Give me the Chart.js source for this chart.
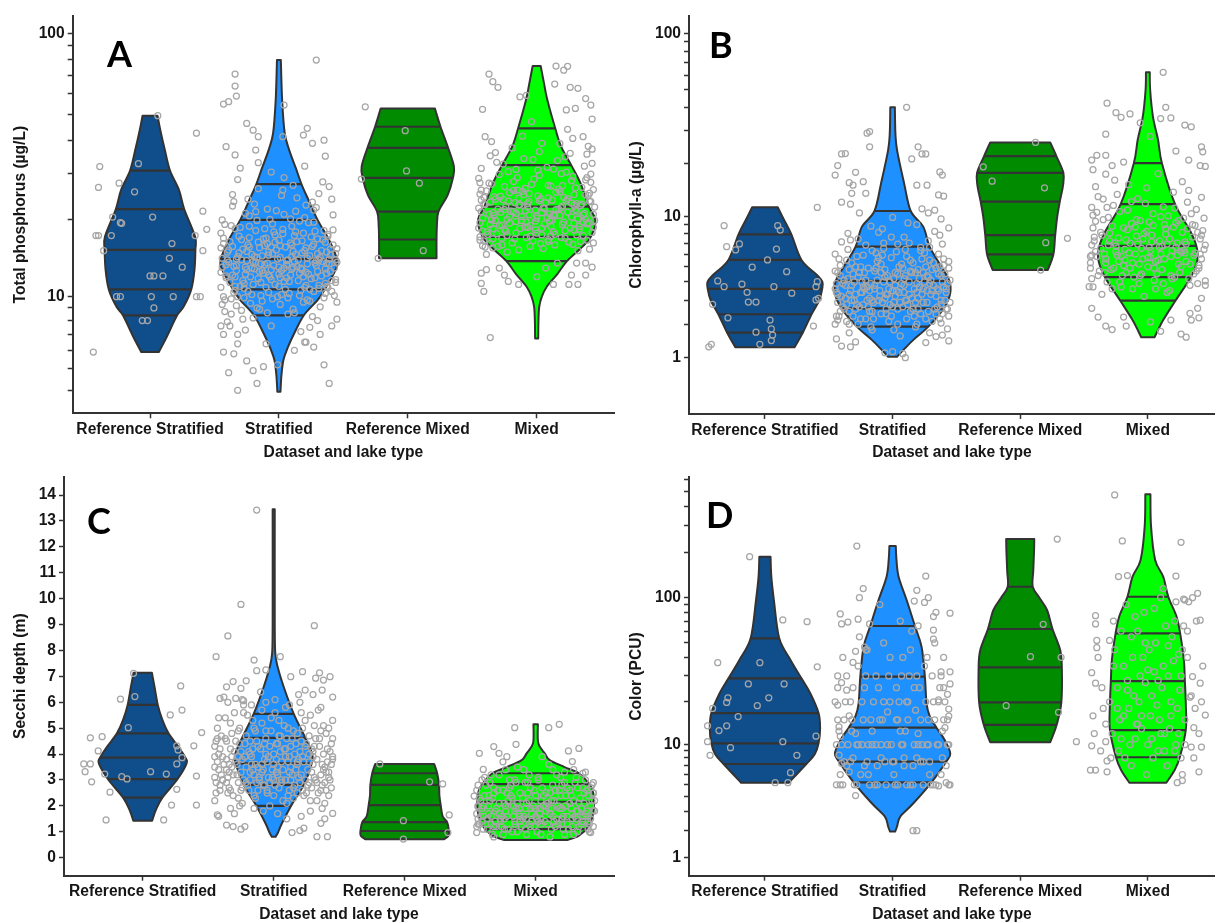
<!DOCTYPE html>
<html>
<head>
<meta charset="utf-8">
<title>Lake water quality by dataset and lake type</title>
<script src="https://cdn.jsdelivr.net/npm/chart.js"></script>
<style>
  html, body { margin: 0; padding: 0; background: #ffffff; }
  #wrap { position: relative; width: 1220px; height: 923px; overflow: hidden; background: #ffffff; }
  #wrap canvas { position: absolute; left: 0; top: 0; }
</style>
</head>
<body>
<div id="wrap">
  <canvas id="cA" width="1220" height="923"></canvas>
  <canvas id="cB" width="1220" height="923"></canvas>
  <canvas id="cC" width="1220" height="923"></canvas>
  <canvas id="cD" width="1220" height="923"></canvas>
</div>
<script>
// ---------------------------------------------------------------------------
// Categories and fills shared by the four panels
// ---------------------------------------------------------------------------
const categories = ['Reference Stratified', 'Stratified', 'Reference Mixed', 'Mixed'];
const fills = ['#104E8B', '#1E90FF', '#008B00', '#00FF00'];

// ---------------------------------------------------------------------------
// A: Total phosphorus (µg/L)
// violin outlines: [value, half width in category units], bottom to top
// ---------------------------------------------------------------------------
const tpShapes = [
  [[5.9,0.068],[6.85,0.13],[8.4,0.21],[9.1,0.26],[10.7,0.32],[12.8,0.345],[15.3,0.352],[17.2,0.35],[22.0,0.265],[26.0,0.225],[30.8,0.155],[36.8,0.115],[43.7,0.08],[49.5,0.058]],
  [[3.94,0.012],[4.7,0.02],[5.45,0.035],[6.1,0.065],[7.1,0.12],[8.43,0.195],[9.69,0.3],[10.73,0.357],[12.8,0.44],[14.1,0.45],[16.7,0.39],[20.0,0.30],[23.8,0.23],[27.4,0.175],[31.6,0.13],[36.8,0.08],[42.6,0.045],[56.6,0.025],[79.7,0.015]],
  [[14.2,0.223],[16.8,0.223],[19.0,0.226],[21.5,0.238],[24.9,0.31],[28.9,0.35],[31.9,0.358],[37.5,0.313],[45.0,0.254],[52.7,0.21]],
  [[6.74,0.012],[8.0,0.014],[9.11,0.02],[10.0,0.04],[10.96,0.078],[12.3,0.16],[13.85,0.235],[15.5,0.34],[17.2,0.42],[20.0,0.455],[22.5,0.405],[27.6,0.34],[32.3,0.268],[37.9,0.19],[44.4,0.144],[56.6,0.083],[65.3,0.057],[75.7,0.031]]
];
// 10th, 25th, 50th, 75th, 90th percentiles
const tpQuantiles = [
  [8.4, 10.7, 15.3, 22.0, 30.8],
  [8.4, 10.7, 14.1, 20.0, 27.4],
  [16.8, 21.5, 28.9, 37.5, 45.0],
  [13.85, 17.2, 22.5, 32.3, 44.4]
];
const tpTicks = [4,5,6,7,8,9,10,20,30,40,50,60,70,80,90,100];
const tpTickLabels = [10, 100];
// lakes: [jitter offset, value]
const tpRefStratPts = [[0.06,49.5],[-0.39,31.9],[-0.4,26.6],[-0.24,27.6],[-0.09,32.7],[-0.12,25.6],[0.02,20.5],[-0.23,19.5],[-0.29,20.5],[0.36,42.6],[0.41,21.6],[-0.42,17.4],[-0.4,17.4],[-0.3,17.4],[-0.22,19.4],[-0.36,15.2],[0.17,16.2],[0.15,14.2],[0.25,13.1],[0.0,12.1],[0.03,12.1],[0.1,12.1],[-0.23,10],[-0.26,10],[0.01,10],[0.18,10],[0.03,9.0],[-0.06,8.0],[-0.02,8.0],[0.35,17.4],[0.41,15.2],[0.44,18.4],[0.36,10],[0.39,10],[-0.44,5.9]];
const tpStratPts = [
  [-0.34,70.7],[-0.34,63.8],[-0.33,58.6],[-0.43,54.7],[-0.39,55.8],[0.04,54.2],[-0.25,46.3],[-0.2,43.7],[-0.16,41.3],[-0.41,37.9],[-0.18,36.8],[-0.34,35.3],[0.03,41.3],[0.29,79.7],[0.22,44.4],[0.19,41.9],[0.26,39.0],[0.35,40.1],[0.36,34.9],
  [-0.32,4.0],[-0.17,4.3],[-0.39,4.8],[-0.25,5.4],[-0.2,4.9],[-0.12,5.1],[-0.35,5.8],[-0.43,5.9],[-0.32,6.4],[-0.1,6.4],[-0.01,5.2],[0.12,6.0],[0.2,6.5],[0.35,5.2],[0.39,4.3],[0.27,6.2],[0.21,6.5],[0.32,7.0],[0.24,7.5],[0.41,7.6],[-0.45,7.6],[-0.38,7.6],[-0.32,7.0],[-0.43,7.0],[-0.37,8.5],[-0.28,8.1],
  [-0.44,14.2],[-0.41,12.1],[-0.38,16.5],[-0.35,10.4],[-0.33,13.3],[-0.30,18.7],[-0.28,11.6],[-0.25,15.1],[-0.22,9.4],[-0.20,13.8],[-0.18,21.5],[-0.15,12.6],[-0.12,16.9],[-0.10,10.9],[-0.08,14.6],[-0.05,19.3],[-0.03,11.2],[0.00,13.1],[0.02,24.8],[0.05,15.7],[0.07,9.9],[0.10,12.9],[0.12,17.4],[0.15,14.0],[0.17,10.6],[0.20,20.4],[0.22,13.5],[0.25,11.8],[0.27,16.1],[0.30,14.8],[0.32,9.1],[0.35,18.2],[0.37,12.4],[0.40,15.4],[0.43,13.0],
  [-0.45,17.8],[-0.42,9.7],[-0.39,13.7],[-0.36,22.6],[-0.34,11.0],[-0.31,14.9],[-0.29,8.8],[-0.26,12.3],[-0.23,17.1],[-0.21,10.2],[-0.19,14.4],[-0.16,26.3],[-0.14,11.4],[-0.11,15.9],[-0.09,8.6],[-0.06,12.8],[-0.04,18.0],[-0.01,10.0],[0.01,14.3],[0.04,21.0],[0.06,11.9],[0.09,16.3],[0.11,8.9],[0.14,13.2],[0.16,19.8],[0.19,12.0],[0.21,15.6],[0.24,9.6],[0.26,23.4],[0.29,13.9],[0.31,11.1],[0.34,16.8],[0.36,10.3],[0.39,14.1],[0.42,20.9],[0.44,11.7],
  [-0.43,10.0],[-0.40,15.0],[-0.37,19.0],[-0.34,12.0],[-0.32,28.5],[-0.29,14.0],[-0.27,10.8],[-0.24,16.0],[-0.21,13.0],[-0.19,23.0],[-0.17,9.0],[-0.13,14.5],[-0.11,18.5],[-0.08,12.2],[-0.06,30.4],[-0.02,15.3],[0.01,9.3],[0.03,17.7],[0.06,13.4],[0.08,11.5],[0.11,27.1],[0.13,14.7],[0.16,10.1],[0.18,16.6],[0.21,12.5],[0.23,19.5],[0.26,8.3],[0.28,13.6],[0.31,25.2],[0.33,15.2],[0.36,11.3],[0.38,17.3],[0.41,10.5],[0.44,14.0],
  [-0.44,20.0],[-0.40,7.9],[-0.36,25.0],[-0.33,9.2],[-0.30,31.5],[-0.26,7.3],[-0.23,20.7],[-0.20,8.2],[-0.16,33.0],[-0.13,12.7],[-0.09,22.0],[-0.06,7.6],[-0.03,16.4],[0.00,11.0],[0.04,29.0],[0.07,8.5],[0.10,18.9],[0.14,24.3],[0.17,7.2],[0.20,32.0],[0.24,10.7],[0.27,21.8],[0.30,8.0],[0.34,27.9],[0.37,13.6],[0.41,24.0],[0.45,9.5],
  [-0.45,12.5],[-0.36,15.8],[-0.27,11.3],[-0.18,18.2],[-0.09,13.6],[0.00,16.7],[0.09,12.2],[0.18,14.9],[0.27,19.6],[0.36,12.9],[0.45,15.5],
  [-0.43,16.2],[-0.34,10.6],[-0.25,13.9],[-0.16,11.8],[-0.07,20.1],[0.02,12.7],[0.11,15.1],[0.20,10.9],[0.29,13.3],[0.38,17.6],[0.44,11.4],
  [-0.41,11.9],[-0.32,14.4],[-0.23,18.9],[-0.14,10.1],[-0.05,14.8],[0.04,11.5],[0.13,21.6],[0.22,14.2],[0.31,10.8],[0.40,14.6],
  [-0.44,13.1],[-0.37,9.8],[-0.28,15.4],[-0.19,12.9],[-0.10,17.0],[-0.01,14.1],[0.08,10.3],[0.17,13.0],[0.26,15.8],[0.35,9.9],[0.42,18.3],
  [-0.42,19.2],[-0.33,12.7],[-0.24,10.5],[-0.15,15.6],[-0.06,11.7],[0.03,18.4],[0.12,13.8],[0.21,11.1],[0.30,16.9],[0.39,13.5],
  [-0.40,14.0],[-0.31,17.3],[-0.22,12.0],[-0.13,9.6],[-0.04,13.3],[0.05,10.7],[0.14,16.5],[0.23,12.3],[0.32,14.3],[0.41,11.6],
  [-0.45,10.9],[-0.35,13.2],[-0.26,21.2],[-0.17,14.3],[-0.08,10.4],[0.01,15.9],[0.10,14.4],[0.19,17.8],[0.28,11.9],[0.37,15.0],[0.45,13.7],
  [-0.39,15.3],[-0.30,11.0],[-0.21,14.7],[-0.12,12.4],[-0.03,17.5],[0.06,13.9],[0.15,11.6],[0.24,14.5],[0.33,12.1],[0.42,16.0],
  [-0.44,9.3],[-0.34,18.5],[-0.25,12.8],[-0.16,16.4],[-0.07,12.0],[0.02,10.2],[0.11,13.1],[0.20,15.2],[0.29,22.3],[0.38,10.9],
  [-0.41,13.4],[-0.32,10.0],[-0.23,15.7],[-0.14,13.5],[-0.05,9.8],[0.04,13.0],[0.13,18.0],[0.22,9.7],[0.31,14.0],[0.40,12.6],
  [-0.43,17.0],[-0.36,12.2],[-0.27,9.9],[-0.18,13.7],[-0.09,16.2],[0.00,12.3],[0.09,20.2],[0.18,12.8],[0.27,10.5],[0.36,16.4],[0.44,14.8],
  [-0.38,11.4],[-0.29,16.8],[-0.20,11.2],[-0.11,13.4],[-0.02,21.7],[0.07,14.0],[0.16,12.4],[0.25,17.2],[0.34,13.8],[0.43,10.1],
  [-0.45,15.6],[-0.35,23.5],[-0.26,13.1],[-0.17,19.9],[-0.08,15.0],[0.01,11.9],[0.10,16.0],[0.19,9.5],[0.28,18.1],[0.37,11.0],
  [-0.42,8.7],[-0.33,14.1],[-0.24,24.0],[-0.15,8.9],[-0.06,15.7],[0.03,26.0],[0.12,8.6],[0.21,22.8],[0.30,12.6],[0.39,26.8],[0.45,8.1]
];
const tpRefMixedPts = [[-0.33,53.4],[-0.02,43.5],[-0.01,30.7],[0.09,27.6],[-0.36,28.6],[0.12,15.2],[-0.23,14.2]];
const tpMixedPts = [
  [0.15,75.7],[0.21,73.1],[0.24,75.5],[-0.37,70.7],[-0.34,66.2],[-0.3,63.1],[0.14,64.9],[0.26,63.1],[0.32,62.6],[0.38,57.3],[0.42,54.2],[0.43,48.1],[-0.42,52.3],[-0.13,58.2],[-0.08,58.9],[-0.4,41.3],[-0.35,39.6],[0.36,41.3],[0.43,37.1],[0.39,35.5],[0.43,32.8],[-0.43,31.4],[-0.44,27.7],[-0.36,35.0],[0.23,52.0],[0.3,52.7],[0.28,40.7],
  [-0.36,6.8],[-0.43,12.4],[-0.39,12.8],[-0.43,11.3],[-0.41,10.5],[-0.29,13.0],[-0.25,12.2],[-0.22,11.5],[-0.14,11.2],[0.0,12.0],[0.07,13.0],[0.13,11.2],[0.25,11.2],[0.32,11.2],[0.27,12.2],[0.38,12.2],[0.43,13.1],[0.41,15.4],[0.38,13.6],[0.31,13.6],[0.16,13.6],[-0.39,14.7],[-0.44,16.7],[-0.42,15.9],
  [-0.44,19.5],[-0.41,23.0],[-0.38,17.6],[-0.35,27.4],[-0.33,20.8],[-0.30,15.8],[-0.28,24.6],[-0.25,18.4],[-0.22,30.5],[-0.20,21.6],[-0.17,16.9],[-0.15,26.0],[-0.12,19.9],[-0.10,34.2],[-0.07,22.4],[-0.05,17.3],[-0.02,28.6],[0.00,20.3],[0.03,24.1],[0.05,15.5],[0.08,31.7],[0.10,21.1],[0.13,18.0],[0.15,25.5],[0.18,38.9],[0.20,19.2],[0.23,23.7],[0.25,16.4],[0.28,29.3],[0.30,21.9],[0.33,18.9],[0.35,26.6],[0.38,20.1],[0.40,24.8],[0.43,17.9],
  [-0.45,22.2],[-0.42,18.1],[-0.39,25.8],[-0.36,16.2],[-0.34,21.3],[-0.31,33.1],[-0.29,19.0],[-0.26,23.9],[-0.23,15.0],[-0.21,20.6],[-0.18,28.0],[-0.16,17.8],[-0.13,22.9],[-0.11,41.5],[-0.08,19.6],[-0.06,25.2],[-0.03,16.6],[-0.01,21.8],[0.02,36.3],[0.04,18.6],[0.07,23.3],[0.09,27.1],[0.12,20.0],[0.14,16.0],[0.17,22.0],[0.19,30.0],[0.22,18.2],[0.24,44.0],[0.27,20.5],[0.29,25.0],[0.32,15.2],[0.34,22.7],[0.37,32.0],[0.39,19.3],[0.42,27.8],[0.44,21.0],
  [-0.43,26.0],[-0.40,15.7],[-0.37,21.0],[-0.34,18.5],[-0.32,24.0],[-0.29,29.8],[-0.27,17.0],[-0.24,22.5],[-0.21,19.4],[-0.19,37.5],[-0.16,21.2],[-0.14,15.3],[-0.11,25.7],[-0.09,18.8],[-0.06,23.5],[-0.04,47.0],[-0.01,19.8],[0.01,30.9],[0.04,17.5],[0.06,22.1],[0.09,16.8],[0.11,26.9],[0.14,20.7],[0.16,33.6],[0.19,17.1],[0.21,24.4],[0.24,21.4],[0.26,35.8],[0.29,18.3],[0.31,23.1],[0.34,16.5],[0.36,20.9],[0.39,29.0],[0.41,23.6],[0.44,18.7],
  [-0.45,18.6],[-0.36,23.4],[-0.27,19.1],[-0.18,25.9],[-0.09,21.7],[0.00,17.8],[0.09,24.3],[0.18,20.8],[0.27,28.2],[0.36,17.4],[0.45,22.4],
  [-0.43,21.5],[-0.34,16.9],[-0.25,26.8],[-0.16,19.7],[-0.07,23.1],[0.02,29.6],[0.11,18.9],[0.20,22.6],[0.29,19.4],[0.38,24.9],[0.44,16.3],
  [-0.41,24.4],[-0.32,19.9],[-0.23,17.4],[-0.14,22.8],[-0.05,19.0],[0.04,21.3],[0.13,31.2],[0.22,17.0],[0.31,21.6],[0.40,19.5],
  [-0.44,17.2],[-0.37,27.6],[-0.28,21.4],[-0.19,16.3],[-0.10,25.0],[-0.01,18.3],[0.08,20.4],[0.17,26.2],[0.26,18.6],[0.35,23.0],[0.42,29.9],
  [-0.42,20.3],[-0.33,24.5],[-0.24,18.1],[-0.15,29.0],[-0.06,20.9],[0.03,16.2],[0.12,23.8],[0.21,19.6],[0.30,26.5],[0.39,16.7],
  [-0.40,22.9],[-0.31,17.7],[-0.22,23.6],[-0.13,18.5],[-0.04,27.3],[0.05,22.2],[0.14,17.6],[0.23,30.4],[0.32,20.2],[0.41,25.3],
  [-0.45,28.8],[-0.35,20.0],[-0.26,32.6],[-0.17,23.3],[-0.08,17.1],[0.01,24.7],[0.10,19.8],[0.19,22.3],[0.28,16.1],[0.37,21.2],[0.45,19.9],
  [-0.39,18.0],[-0.30,22.0],[-0.21,25.4],[-0.12,20.6],[-0.03,33.9],[0.06,19.3],[0.15,21.9],[0.24,24.1],[0.33,18.4],[0.42,23.5],
  [-0.44,25.1],[-0.34,15.6],[-0.25,21.9],[-0.16,31.1],[-0.07,18.7],[0.02,23.7],[0.11,17.3],[0.20,27.0],[0.29,22.8],[0.38,28.4],
  [-0.41,16.6],[-0.32,36.0],[-0.23,20.1],[-0.14,24.2],[-0.05,15.8],[0.04,39.0],[0.13,21.0],[0.22,34.7],[0.31,17.5],[0.40,38.0],
  [-0.43,23.8],[-0.36,19.2],[-0.27,16.0],[-0.18,21.5],[-0.09,26.4],[0.00,20.7],[0.09,16.5],[0.18,25.6],[0.27,23.2],[0.36,19.6],[0.44,26.1]
];

// ---------------------------------------------------------------------------
// B: Chlorophyll-a (µg/L)
// ---------------------------------------------------------------------------
const chlShapes = [
  [[1.27,0.232],[1.71,0.297],[2.38,0.365],[3.0,0.425],[3.59,0.448],[4.0,0.45],[4.43,0.407],[5.52,0.286],[7.89,0.207],[9.57,0.15],[11.32,0.10]],
  [[1.02,0.035],[1.25,0.1],[1.48,0.163],[1.91,0.28],[2.63,0.40],[3.3,0.45],[4.06,0.445],[5.2,0.37],[6.65,0.29],[8.75,0.24],[10.78,0.142],[15.5,0.09],[23.6,0.035],[29.3,0.022],[40.3,0.018]],
  [[4.77,0.216],[5.98,0.26],[7.81,0.274],[10.0,0.29],[12.19,0.31],[15.0,0.335],[17.7,0.338],[21.9,0.283],[26.0,0.235]],
  [[1.56,0.052],[2.15,0.12],[2.99,0.217],[4.29,0.336],[5.52,0.388],[6.72,0.38],[8.36,0.328],[11.8,0.213],[20.0,0.11],[26.8,0.08],[35.8,0.04],[49.9,0.018],[62.0,0.015]]
];
const chlQuantiles = [
  [1.71, 2.38, 3.59, 5.52, 7.89],
  [1.91, 2.63, 4.06, 6.65, 10.78],
  [5.98, 7.81, 12.19, 17.7, 21.9],
  [2.99, 4.29, 6.72, 11.8, 20.0]
];
const chlTicks = [1,2,3,4,5,6,7,8,9,10,20,30,40,50,60,70,80,90,100];
const chlTickLabels = [1, 10, 100];
const chlRefStratPts = [[-0.32,8.86],[-0.3,6.65],[-0.2,6.91],[-0.23,6.36],[0.1,8.86],[0.12,8.36],[0.09,6.44],[0.02,5.52],[-0.1,4.97],[0.17,4.66],[-0.37,4.06],[-0.32,3.72],[-0.18,3.86],[0.07,3.72],[-0.14,3.41],[0.21,3.36],[-0.13,2.92],[-0.07,2.92],[-0.41,2.81],[0.41,4.01],[0.4,3.72],[0.42,3.1],[0.4,3.02],[-0.29,2.24],[0.04,2.15],[0.05,1.83],[-0.07,1.72],[0.06,1.63],[0.05,1.46],[-0.04,1.35],[0.38,1.93],[-0.44,1.28],[-0.42,1.35],[0.41,11.3]];
const chlStratPts = [
  [0.11,40.3],[-0.2,29.2],[-0.18,29.8],[-0.18,24.6],[-0.4,22.5],[-0.37,22.6],[-0.43,19.4],[-0.45,17.2],[-0.29,17.8],[-0.34,15.6],[-0.23,15.8],[-0.31,15.1],[-0.21,13.6],[-0.32,13.6],[-0.4,12.1],[-0.33,11.8],[0.2,24.6],[0.23,22.5],[0.26,22.5],[0.15,21.1],[0.37,17.9],[0.39,17.2],[0.19,15.1],[0.27,15.1],[0.36,13.3],[0.4,13.1],[0.38,9.7],[0.33,10.9],[0.23,11.1],[0.28,10.5],
  [-0.44,1.51],[-0.4,1.3],[-0.33,1.28],[-0.29,1.42],[-0.43,2.15],[-0.34,1.7],[-0.06,1.12],[0.0,1.15],[0.08,1.1],[0.1,1.0],[0.26,1.4],[0.34,1.58],[0.39,1.63],[0.44,1.45],[0.43,1.83],[0.38,2.04],
  [-0.44,3.4],[-0.41,5.1],[-0.38,2.6],[-0.35,4.2],[-0.33,7.3],[-0.30,3.0],[-0.28,5.8],[-0.25,2.2],[-0.22,4.6],[-0.20,3.7],[-0.17,8.8],[-0.15,2.9],[-0.12,5.4],[-0.10,3.2],[-0.07,6.5],[-0.05,2.4],[-0.02,4.0],[0.00,9.9],[0.03,3.5],[0.05,5.0],[0.08,2.7],[0.10,4.4],[0.13,7.0],[0.15,3.1],[0.18,1.9],[0.20,4.8],[0.23,3.3],[0.25,6.1],[0.28,2.5],[0.30,4.1],[0.33,8.2],[0.35,3.6],[0.38,2.8],[0.40,5.6],[0.43,3.9],
  [-0.45,6.0],[-0.42,2.3],[-0.39,3.9],[-0.36,5.5],[-0.34,2.0],[-0.31,4.5],[-0.29,3.3],[-0.26,10.5],[-0.23,2.8],[-0.21,6.8],[-0.18,3.5],[-0.16,1.8],[-0.13,4.9],[-0.11,3.0],[-0.08,5.9],[-0.06,4.3],[-0.03,2.1],[-0.01,7.6],[0.02,3.8],[0.04,2.6],[0.07,5.2],[0.09,3.4],[0.12,9.2],[0.14,4.7],[0.17,2.3],[0.19,3.9],[0.22,6.3],[0.24,2.9],[0.27,4.4],[0.29,1.7],[0.32,5.3],[0.34,3.2],[0.37,7.8],[0.39,4.0],[0.42,2.6],[0.44,4.9],
  [-0.43,4.6],[-0.40,7.1],[-0.37,3.1],[-0.34,2.5],[-0.32,3.8],[-0.29,5.0],[-0.27,2.0],[-0.24,3.4],[-0.21,4.1],[-0.19,2.7],[-0.16,6.3],[-0.14,3.6],[-0.11,8.1],[-0.09,2.4],[-0.06,4.8],[-0.04,3.3],[-0.01,5.7],[0.01,2.9],[0.04,6.9],[0.06,1.6],[0.09,4.2],[0.11,3.0],[0.14,5.5],[0.16,2.6],[0.19,9.0],[0.21,3.7],[0.24,4.6],[0.26,2.2],[0.29,6.6],[0.31,3.5],[0.34,2.4],[0.36,4.5],[0.39,6.9],[0.41,3.0],[0.44,8.6],
  [-0.45,3.6],[-0.36,2.8],[-0.27,4.3],[-0.18,3.1],[-0.09,5.2],[0.00,2.7],[0.09,3.8],[0.18,4.6],[0.27,2.9],[0.36,3.5],[0.45,4.1],
  [-0.43,2.9],[-0.34,4.8],[-0.25,3.4],[-0.16,2.5],[-0.07,4.0],[0.02,3.2],[0.11,5.8],[0.20,2.6],[0.29,3.9],[0.38,3.0],[0.44,5.4],
  [-0.41,4.4],[-0.32,3.0],[-0.23,5.9],[-0.14,3.8],[-0.05,2.6],[0.04,4.5],[0.13,3.3],[0.22,2.4],[0.31,4.8],[0.40,3.7],
  [-0.44,2.3],[-0.37,3.8],[-0.28,2.8],[-0.19,4.9],[-0.10,3.5],[-0.01,2.3],[0.08,4.9],[0.17,3.6],[0.26,5.0],[0.35,2.7],[0.42,3.4],
  [-0.42,5.6],[-0.33,3.5],[-0.24,4.0],[-0.15,2.2],[-0.06,3.1],[0.03,6.2],[0.12,2.8],[0.21,4.2],[0.30,3.3],[0.39,2.4],
  [-0.40,3.2],[-0.31,2.3],[-0.22,3.6],[-0.13,6.1],[-0.04,4.4],[0.05,3.4],[0.14,2.5],[0.23,5.6],[0.32,3.8],[0.41,4.5],
  [-0.45,4.7],[-0.35,6.4],[-0.26,2.7],[-0.17,3.9],[-0.08,2.9],[0.01,4.2],[0.10,3.0],[0.19,3.4],[0.28,4.3],[0.37,5.0],[0.45,2.9],
  [-0.39,2.7],[-0.30,4.0],[-0.21,2.2],[-0.12,4.1],[-0.03,3.6],[0.06,2.9],[0.15,4.6],[0.24,3.6],[0.33,2.6],[0.42,3.6],
  [-0.44,3.9],[-0.34,3.3],[-0.25,5.0],[-0.16,3.0],[-0.07,7.0],[0.02,4.6],[0.11,2.2],[0.20,3.1],[0.29,5.5],[0.38,4.4],
  [-0.41,2.5],[-0.32,5.3],[-0.23,3.7],[-0.14,4.7],[-0.05,3.3],[0.04,2.0],[0.13,4.0],[0.22,6.6],[0.31,2.1],[0.40,5.1],
  [-0.43,3.3],[-0.36,2.1],[-0.27,7.4],[-0.18,2.5],[-0.09,4.6],[0.00,3.5],[0.09,7.6],[0.18,2.9],[0.27,3.5],[0.36,6.0],[0.44,2.3],
  [-0.38,4.1],[-0.29,2.6],[-0.20,3.0],[-0.11,5.7],[-0.02,2.8],[0.07,3.9],[0.16,5.3],[0.25,4.0],[0.34,4.9],[0.43,2.6],
  [-0.45,2.0],[-0.35,8.0],[-0.26,4.6],[-0.17,1.9],[-0.08,8.5],[0.01,1.8],[0.10,6.4],[0.19,2.0],[0.28,7.2],[0.37,2.2]
];
const chlRefMixedPts = [[0.12,26.0],[-0.29,19.1],[-0.22,15.9],[0.19,14.6],[0.2,7.03],[0.37,7.47],[0.16,4.77]];
const chlMixedPts = [
  [0.12,62.0],[-0.32,42.4],[-0.25,37.7],[-0.21,35.6],[-0.14,37.1],[0.14,40.3],[0.18,35.3],[0.1,35.0],[0.29,32.3],[0.34,31.6],[-0.33,28.8],[-0.06,33.2],[0.02,28.0],[0.42,24.6],[0.43,23.1],[0.22,23.3],[-0.44,20.8],[-0.4,22.1],[-0.33,22.1],[0.32,20.8],[0.41,19.4],[0.45,19.2],[-0.28,19.4],[-0.19,20.3],[-0.43,18.4],[-0.33,17.4],[-0.41,14.8],[-0.44,11.3],
  [-0.44,5.9],[-0.46,3.72],[-0.43,3.7],[-0.44,2.63],[-0.39,2.27],[-0.33,1.93],[-0.28,1.81],[-0.19,2.27],[-0.17,1.93],[0.02,2.08],[0.1,1.75],[0.18,2.15],[0.26,1.66],[0.3,1.56],[0.33,2.42],[0.39,2.63],[0.4,2.24],[0.34,2.15],[0.42,3.1],[0.45,4.06],
  [-0.44,6.8],[-0.41,9.4],[-0.38,4.7],[-0.35,12.6],[-0.33,5.6],[-0.30,8.0],[-0.28,3.6],[-0.25,6.2],[-0.22,10.7],[-0.20,4.4],[-0.17,7.3],[-0.15,15.2],[-0.12,5.3],[-0.10,8.7],[-0.07,3.9],[-0.05,6.5],[-0.02,11.9],[0.00,5.0],[0.03,7.8],[0.05,4.1],[0.08,17.5],[0.10,6.0],[0.13,9.0],[0.15,3.4],[0.18,5.8],[0.20,13.8],[0.23,7.0],[0.25,4.6],[0.28,9.8],[0.30,5.4],[0.33,3.8],[0.35,7.6],[0.38,11.0],[0.40,5.1],[0.43,8.3],
  [-0.45,4.9],[-0.42,7.2],[-0.39,13.0],[-0.36,3.3],[-0.34,6.0],[-0.31,9.9],[-0.29,4.8],[-0.26,16.1],[-0.23,7.5],[-0.21,3.7],[-0.18,5.5],[-0.16,8.4],[-0.13,12.2],[-0.11,4.3],[-0.08,6.9],[-0.06,9.5],[-0.03,3.2],[-0.01,14.6],[0.02,5.7],[0.04,8.9],[0.07,4.5],[0.09,6.6],[0.12,11.4],[0.14,7.9],[0.17,3.5],[0.19,6.3],[0.22,9.2],[0.24,5.2],[0.27,15.8],[0.29,7.1],[0.32,4.2],[0.34,10.4],[0.37,6.1],[0.39,3.9],[0.42,12.9],[0.44,6.4],
  [-0.43,10.2],[-0.40,5.8],[-0.37,8.1],[-0.32,4.0],[-0.27,11.6],[-0.24,5.9],[-0.19,8.6],[-0.14,4.9],[-0.09,7.7],[-0.04,5.6],[0.01,9.3],[0.06,3.6],[0.11,6.7],[0.16,10.1],[0.21,4.3],[0.26,6.2],[0.31,8.5],[0.36,4.5],[0.41,7.4],
  [-0.45,5.3],[-0.36,7.8],[-0.27,4.9],[-0.18,6.4],[-0.09,9.6],[0.00,5.7],[0.09,7.2],[0.18,4.4],[0.27,8.1],[0.36,5.9],[0.45,6.8],
  [-0.43,8.6],[-0.34,4.6],[-0.25,6.7],[-0.16,10.9],[-0.07,5.2],[0.02,6.3],[0.11,4.8],[0.20,8.7],[0.29,6.1],[0.38,4.7],[0.44,9.8],
  [-0.41,6.2],[-0.32,11.3],[-0.23,5.4],[-0.14,7.0],[-0.05,4.5],[0.04,10.4],[0.13,5.6],[0.22,6.6],[0.31,12.1],[0.40,4.9],
  [-0.44,4.2],[-0.37,6.5],[-0.28,8.8],[-0.19,5.1],[-0.10,6.0],[-0.01,8.2],[0.08,5.5],[0.17,7.4],[0.26,5.0],[0.35,9.0],[0.42,5.6],
  [-0.42,7.6],[-0.33,5.3],[-0.24,13.4],[-0.15,6.1],[-0.06,4.4],[0.03,7.1],[0.12,3.9],[0.21,11.2],[0.30,6.9],[0.39,8.1],
  [-0.40,10.6],[-0.31,6.8],[-0.22,4.0],[-0.13,9.1],[-0.04,7.4],[0.05,4.9],[0.14,8.5],[0.23,5.9],[0.32,14.1],[0.41,6.0],
  [-0.45,5.8],[-0.35,9.6],[-0.26,7.0],[-0.17,4.6],[-0.08,12.7],[0.01,6.6],[0.10,10.0],[0.19,4.2],[0.28,6.3],[0.37,8.9],[0.45,3.8],
  [-0.39,4.4],[-0.30,7.2],[-0.21,5.8],[-0.12,3.6],[-0.03,8.0],[0.06,5.4],[0.15,6.9],[0.24,9.5],[0.33,5.2],[0.42,7.8]
];

// ---------------------------------------------------------------------------
// C: Secchi depth (m)
// ---------------------------------------------------------------------------
const secShapes = [
  [[1.43,0.072],[1.84,0.1],[2.32,0.15],[3.03,0.265],[3.64,0.335],[3.86,0.326],[4.3,0.27],[4.8,0.197],[5.32,0.15],[5.9,0.115],[6.6,0.09],[7.14,0.07]],
  [[0.81,0.015],[1.0,0.035],[1.33,0.063],[2.0,0.132],[2.81,0.229],[3.64,0.29],[4.03,0.292],[4.63,0.241],[5.55,0.153],[6.6,0.076],[7.37,0.03],[7.9,0.012],[9.0,0.008],[13.45,0.008]],
  [[0.71,0.30],[0.85,0.335],[1.03,0.338],[1.37,0.324],[1.6,0.29],[2.03,0.275],[2.4,0.265],[2.81,0.262],[3.26,0.248],[3.62,0.225]],
  [[0.68,0.24],[0.85,0.33],[1.2,0.40],[1.71,0.44],[2.49,0.44],[2.9,0.40],[3.26,0.33],[3.5,0.22],[3.77,0.107],[4.03,0.069],[4.42,0.02],[5.15,0.017]]
];
const secQuantiles = [
  [2.32, 3.03, 3.86, 4.80, 5.90],
  [2.0, 2.81, 3.64, 4.63, 5.55],
  [1.03, 1.37, 2.03, 2.81, 3.26],
  [1.10, 1.48, 2.16, 2.84, 3.26]
];
const secTicks = [0,1,2,3,4,5,6,7,8,9,10,11,12,13,14];
const secTickLabels = secTicks;
const secRefStratPts = [[-0.07,7.12],[-0.06,6.22],[-0.17,6.12],[-0.11,5.02],[0.29,6.63],[0.3,5.7],[0.21,5.51],[0.45,4.83],[0.39,4.32],[0.26,4.32],[0.27,4.16],[0.3,3.86],[0.26,3.62],[-0.4,4.63],[-0.31,4.67],[-0.34,4.12],[-0.45,3.62],[-0.4,3.62],[-0.44,3.32],[-0.29,3.23],[-0.39,2.93],[-0.16,3.13],[-0.12,3.04],[0.06,3.32],[0.18,3.23],[0.41,3.15],[-0.25,2.53],[0.26,2.64],[0.22,2.03],[0.41,2.03],[-0.28,1.46],[0.16,1.46]];
const secStratPts = [
  [-0.13,13.42],[-0.25,9.78],[-0.35,8.56],[-0.44,7.76],[-0.15,7.63],[0.05,7.76],[-0.13,7.22],[-0.06,7.25],[0.22,7.18],[0.13,6.99],[-0.31,6.8],[-0.36,6.6],[-0.21,6.83],[-0.25,6.54],[-0.41,6.15],[-0.29,6.15],[-0.23,6.06],[0.31,8.96],[0.32,6.93],[0.38,6.86],[0.43,6.99],[0.35,7.14],[0.24,6.47],[0.37,6.47],
  [0.33,0.81],[0.41,0.81],[0.23,1.14],[0.36,1.33],[0.45,1.71],[-0.31,1.2],[-0.43,1.65],[-0.36,1.26],[0.14,0.97],[0.2,1.05],[-0.25,1.1],[-0.22,1.2],
  [-0.45,3.5],[-0.43,4.6],[-0.41,2.8],[-0.39,3.9],[-0.37,5.4],[-0.35,3.1],[-0.33,4.2],[-0.31,2.4],[-0.29,3.7],[-0.27,4.9],[-0.25,3.3],[-0.23,5.9],[-0.21,2.9],[-0.19,4.1],[-0.17,3.6],[-0.15,1.9],[-0.13,4.5],[-0.11,3.0],[-0.09,5.2],[-0.07,3.8],[-0.05,2.6],[-0.03,4.3],[-0.01,3.4],[0.01,6.1],[0.03,3.2],[0.05,4.7],[0.07,2.2],[0.09,3.9],[0.11,5.0],[0.13,3.5],[0.15,2.7],[0.17,4.4],[0.19,3.1],[0.21,5.6],[0.23,3.7],[0.25,2.5],[0.27,4.0],[0.29,3.3],[0.31,5.1],[0.33,2.9],[0.35,4.6],[0.37,3.6],[0.39,2.1],[0.41,4.2],[0.43,3.0],[0.45,5.3],
  [-0.44,2.5],[-0.42,4.0],[-0.40,3.2],[-0.38,6.2],[-0.36,2.9],[-0.34,3.6],[-0.32,4.8],[-0.30,1.7],[-0.28,3.2],[-0.26,4.4],[-0.24,2.7],[-0.22,3.9],[-0.20,5.5],[-0.18,3.0],[-0.16,4.2],[-0.14,2.3],[-0.12,3.5],[-0.10,6.4],[-0.08,2.8],[-0.06,4.0],[-0.04,3.1],[-0.02,4.9],[0.00,2.4],[0.02,3.8],[0.04,5.3],[0.06,3.0],[0.08,4.2],[0.10,1.5],[0.12,3.3],[0.14,4.6],[0.16,2.8],[0.18,3.7],[0.20,6.0],[0.22,2.6],[0.24,4.3],[0.26,3.4],[0.28,1.8],[0.30,4.1],[0.32,3.0],[0.34,5.7],[0.36,2.6],[0.38,4.0],[0.40,3.3],[0.42,5.0],[0.44,2.7],
  [-0.45,4.3],[-0.42,1.6],[-0.39,3.0],[-0.36,4.5],[-0.33,2.6],[-0.30,5.6],[-0.27,3.9],[-0.24,2.1],[-0.21,4.7],[-0.18,3.3],[-0.15,5.0],[-0.12,2.6],[-0.09,3.6],[-0.06,4.6],[-0.03,2.0],[0.00,3.6],[0.03,4.4],[0.06,2.9],[0.09,5.8],[0.12,3.9],[0.15,2.3],[0.18,4.8],[0.21,3.2],[0.24,5.3],[0.27,2.9],[0.30,3.9],[0.33,2.2],[0.36,4.9],[0.39,3.5],[0.42,2.4],[0.45,3.8],
  [-0.45,3.1],[-0.36,3.8],[-0.27,2.9],[-0.18,4.5],[-0.09,3.3],[0.00,4.0],[0.09,3.0],[0.18,3.6],[0.27,4.7],[0.36,3.2],[0.45,3.9],
  [-0.43,3.7],[-0.34,2.7],[-0.25,4.1],[-0.16,3.4],[-0.07,2.8],[0.02,4.4],[0.11,3.7],[0.20,2.9],[0.29,4.2],[0.38,3.4],[0.44,4.4],
  [-0.41,4.2],[-0.32,3.5],[-0.23,3.0],[-0.14,4.9],[-0.05,3.7],[0.04,2.7],[0.13,4.3],[0.22,3.9],[0.31,3.1],[0.40,4.8],
  [-0.44,2.9],[-0.37,4.6],[-0.28,3.6],[-0.19,2.6],[-0.10,4.2],[-0.01,3.1],[0.08,5.1],[0.17,3.4],[0.26,2.8],[0.35,4.3],[0.42,3.3],
  [-0.42,3.4],[-0.33,5.2],[-0.24,3.8],[-0.15,3.2],[-0.06,4.9],[0.03,3.5],[0.12,2.6],[0.21,4.5],[0.30,3.6],[0.39,2.9],
  [-0.40,4.7],[-0.31,3.2],[-0.22,4.4],[-0.13,2.9],[-0.04,3.9],[0.05,4.1],[0.14,3.2],[0.23,2.4],[0.32,4.6],[0.41,3.7],
  [-0.45,3.9],[-0.35,2.5],[-0.26,5.0],[-0.17,3.9],[-0.08,3.4],[0.01,2.8],[0.10,4.6],[0.19,3.8],[0.28,5.5],[0.37,2.8],[0.45,4.6],
  [-0.39,3.0],[-0.30,4.1],[-0.21,3.5],[-0.12,4.3],[-0.03,2.9],[0.06,3.7],[0.15,4.9],[0.24,3.0],[0.33,3.8],[0.42,3.1],
  [-0.44,4.5],[-0.34,3.3],[-0.25,2.6],[-0.16,5.3],[-0.07,4.4],[0.02,3.3],[0.11,2.4],[0.20,4.1],[0.29,2.7],[0.38,5.1],
  [-0.41,2.6],[-0.32,3.9],[-0.23,5.6],[-0.14,3.6],[-0.05,2.5],[0.04,4.7],[0.13,3.0],[0.22,5.0],[0.31,4.3],[0.40,2.6],
  [-0.43,5.0],[-0.36,3.4],[-0.27,2.3],[-0.18,4.0],[-0.09,5.7],[0.00,3.0],[0.09,4.2],[0.18,2.5],[0.27,3.7],[0.36,5.8],[0.44,3.6],
  [-0.38,3.6],[-0.29,4.5],[-0.20,2.8],[-0.11,3.1],[-0.02,5.4],[0.07,3.4],[0.16,4.0],[0.25,4.4],[0.34,2.5],[0.43,4.1],
  [-0.45,2.2],[-0.35,6.0],[-0.26,2.0],[-0.17,5.9],[-0.08,1.8],[0.01,5.6],[0.10,2.1],[0.19,6.3],[0.28,2.2],[0.37,1.9],[0.45,6.2],
  [-0.42,5.4],[-0.33,1.9],[-0.24,6.1],[-0.15,2.4],[-0.06,6.0],[0.03,1.7],[0.12,5.9],[0.21,1.6],[0.30,6.3],[0.39,1.5]
];
const secRefMixedPts = [[-0.19,3.62],[0.19,2.93],[0.29,2.85],[0.34,1.65],[-0.01,1.43],[0.33,0.97],[-0.01,0.72]];
const secMixedPts = [
  [-0.16,5.02],[0.1,5.02],[0.18,5.15],[-0.15,4.38],[-0.32,4.29],[-0.43,4.03],[-0.28,4.03],[-0.22,3.9],[0.25,4.12],[0.33,4.22],[0.28,3.71],[0.36,3.26],[-0.4,3.41],[0.43,2.81],[0.44,2.49],[0.42,0.97],[-0.45,0.97],[-0.47,2.38],[-0.44,1.97],[0.44,1.84],
  [-0.44,1.5],[-0.42,2.2],[-0.40,1.1],[-0.38,2.8],[-0.36,1.7],[-0.34,1.3],[-0.32,2.5],[-0.30,1.9],[-0.28,3.2],[-0.26,1.2],[-0.24,2.1],[-0.22,1.6],[-0.20,2.7],[-0.18,1.0],[-0.16,1.8],[-0.14,3.5],[-0.12,1.4],[-0.10,2.3],[-0.08,1.9],[-0.06,2.9],[-0.04,1.2],[-0.02,2.0],[0.00,1.6],[0.02,3.0],[0.04,1.3],[0.06,2.4],[0.08,1.8],[0.10,3.6],[0.12,1.1],[0.14,2.2],[0.16,1.5],[0.18,2.6],[0.20,1.9],[0.22,3.3],[0.24,1.3],[0.26,2.1],[0.28,1.7],[0.30,2.9],[0.32,1.0],[0.34,2.3],[0.36,1.6],[0.38,3.0],[0.40,1.4],[0.42,2.0],[0.44,1.2],
  [-0.45,2.6],[-0.43,1.3],[-0.41,1.9],[-0.39,3.1],[-0.37,1.5],[-0.35,2.2],[-0.33,0.9],[-0.31,1.8],[-0.29,2.6],[-0.27,1.4],[-0.25,3.7],[-0.23,2.0],[-0.21,1.1],[-0.19,2.4],[-0.17,1.6],[-0.15,2.9],[-0.13,1.9],[-0.11,1.2],[-0.09,3.4],[-0.07,1.5],[-0.05,2.2],[-0.03,1.7],[-0.01,2.6],[0.01,1.0],[0.03,1.9],[0.05,3.9],[0.07,1.4],[0.09,2.1],[0.11,1.7],[0.13,2.8],[0.15,1.2],[0.17,2.0],[0.19,3.1],[0.21,1.6],[0.23,2.4],[0.25,1.1],[0.27,1.9],[0.29,3.4],[0.31,1.5],[0.33,2.1],[0.35,1.3],[0.37,2.5],[0.39,1.8],[0.41,1.0],[0.43,2.2],
  [-0.44,2.0],[-0.40,1.6],[-0.36,2.4],[-0.32,1.2],[-0.28,2.1],[-0.24,1.5],[-0.20,3.0],[-0.16,1.3],[-0.12,2.5],[-0.08,1.1],[-0.04,2.7],[0.00,1.9],[0.04,1.5],[0.08,2.5],[0.12,1.9],[0.16,3.2],[0.20,1.3],[0.24,2.7],[0.28,1.2],[0.32,1.8],[0.36,2.7],[0.40,1.6],[0.44,2.9],
  [-0.45,1.7],[-0.36,2.0],[-0.27,1.5],[-0.18,2.3],[-0.09,1.6],[0.00,2.4],[0.09,1.3],[0.18,1.9],[0.27,2.4],[0.36,1.4],[0.45,1.8],
  [-0.43,2.3],[-0.34,1.6],[-0.25,2.6],[-0.16,1.4],[-0.07,2.1],[0.02,1.4],[0.11,2.5],[0.20,1.5],[0.29,2.2],[0.38,1.7],[0.44,2.5],
  [-0.41,1.4],[-0.32,2.7],[-0.23,1.8],[-0.14,2.1],[-0.05,1.3],[0.04,2.2],[0.13,1.6],[0.22,2.9],[0.31,1.8],[0.40,2.4],
  [-0.44,2.8],[-0.37,1.1],[-0.28,1.7],[-0.19,2.8],[-0.10,1.5],[-0.01,1.2],[0.08,2.0],[0.17,1.3],[0.26,2.6],[0.35,1.9],[0.42,1.5],
  [-0.42,1.6],[-0.33,2.3],[-0.24,1.1],[-0.15,1.9],[-0.06,2.5],[0.03,1.7],[0.12,2.2],[0.21,1.1],[0.30,1.6],[0.39,2.6],
  [-0.40,2.0],[-0.31,1.4],[-0.22,2.5],[-0.13,1.7],[-0.04,1.9],[0.05,2.7],[0.14,1.4],[0.23,2.0],[0.32,2.7],[0.41,1.3],
  [-0.45,1.2],[-0.35,2.9],[-0.26,1.6],[-0.17,2.0],[-0.08,2.9],[0.01,1.5],[0.10,1.9],[0.19,2.4],[0.28,1.5],[0.37,2.1],[0.45,2.2],
  [-0.39,2.4],[-0.30,1.2],[-0.21,2.2],[-0.12,1.6],[-0.03,1.4],[0.06,2.0],[0.15,2.6],[0.24,1.6],[0.33,1.2],[0.42,2.7],
  [-0.44,1.3],[-0.34,3.2],[-0.25,0.9],[-0.16,3.0],[-0.07,0.9],[0.02,3.1],[0.11,0.8],[0.20,2.8],[0.29,0.9],[0.38,3.3],
  [-0.41,3.0],[-0.32,0.8],[-0.23,3.4],[-0.14,1.0],[-0.05,3.2],[0.04,0.9],[0.13,3.4],[0.22,0.9],[0.31,3.1],[0.40,1.1]
];

// ---------------------------------------------------------------------------
// D: Color (PCU)
// ---------------------------------------------------------------------------
const colShapes = [
  [[5.19,0.187],[7.21,0.324],[8.5,0.39],[10.22,0.42],[13.0,0.432],[16.7,0.42],[22.9,0.355],[28.9,0.286],[38.5,0.2],[53.7,0.112],[96.5,0.07],[137.7,0.05],[186.5,0.044]],
  [[1.96,0.02],[2.2,0.035],[2.71,0.06],[3.54,0.163],[5.23,0.305],[7.5,0.42],[8.65,0.452],[10.8,0.408],[13.2,0.344],[16.0,0.29],[19.5,0.266],[29.7,0.253],[47.2,0.227],[64.9,0.175],[96.5,0.11],[137.7,0.047],[180,0.03],[219.4,0.025]],
  [[10.4,0.235],[13.8,0.285],[19.8,0.322],[34.3,0.326],[44.9,0.313],[62.0,0.253],[82.9,0.21],[100,0.15],[118.2,0.098],[150,0.102],[200,0.108],[243.9,0.11]],
  [[5.19,0.145],[6.5,0.21],[8.09,0.25],[12.7,0.297],[18.5,0.298],[27.7,0.29],[38.4,0.282],[58.0,0.253],[74.8,0.225],[101.5,0.16],[137.7,0.12],[177.4,0.057],[294,0.025],[479.9,0.02]]
];
const colQuantiles = [
  [7.21, 10.22, 16.7, 28.9, 53.7],
  [5.23, 7.5, 13.2, 29.7, 64.9],
  [13.8, 19.8, 34.3, 62.0, 118.2],
  [8.09, 12.7, 27.7, 58.0, 101.5]
];
const colTicks = [1,2,3,4,5,6,7,8,9,10,20,30,40,50,60,70,80,90,100,200,300,400,500,600];
const colTickLabels = [1, 10, 100];
const colRefStratPts = [[-0.12,186.5],[-0.37,36.9],[-0.04,36.9],[0.41,34.6],[0.14,71.2],[0.33,69.3],[-0.13,26.5],[0.15,26.5],[0.03,21.3],[-0.29,21.3],[-0.3,19.8],[-0.06,18.8],[-0.41,18.0],[-0.21,15.8],[-0.45,13.6],[-0.3,13.6],[-0.36,12.6],[0.4,11.5],[-0.45,10.5],[0.14,10.5],[-0.27,9.5],[-0.43,8.37],[0.25,8.37],[0.2,6.2],[0.08,5.19],[0.18,5.19]];
const colStratPts = [
  [-0.28,219],[-0.23,115],[-0.26,100],[-0.41,78],[-0.4,67],[-0.35,69],[-0.27,72],[-0.18,67],[-0.39,40],[-0.31,37],[-0.29,44],[-0.22,47],[-0.21,45],[-0.43,30],[-0.4,27],[-0.36,24],[-0.43,19],[-0.34,16],[-0.42,13.4],[-0.41,11.5],[-0.42,8.4],[-0.4,7.3],[-0.34,6.3],[-0.29,4.1],[0.16,2.0],[0.26,139],[0.19,112],[0.25,93],[0.28,100],[0.17,95],[0.2,65],[0.32,75],[0.34,80],[0.45,79],[0.32,61],[0.32,53],[0.4,40],[0.38,32],[0.45,32],[0.45,26.5],[0.43,22.5],[0.36,20.6],[0.44,17.8],[0.44,15.9],[0.41,13.2],[0.42,5.2],[0.36,4.9],[0.45,5.0],[0.19,2.0],
  [-0.44,10],[-0.41,5],[-0.38,7.5],[-0.35,10],[-0.32,15],[-0.30,5],[-0.27,10],[-0.24,20],[-0.22,7],[-0.19,10],[-0.16,12.5],[-0.14,5],[-0.11,25],[-0.09,10],[-0.06,7.5],[-0.03,30],[-0.01,10],[0.02,5],[0.04,15],[0.07,10],[0.09,8],[0.12,20],[0.14,5],[0.17,10],[0.20,12],[0.22,7.5],[0.25,35],[0.27,10],[0.30,5],[0.33,15],[0.35,10],[0.38,6],[0.41,20],[0.43,10],
  [-0.45,20],[-0.42,12.5],[-0.39,5],[-0.36,30],[-0.33,7.5],[-0.31,25],[-0.28,10],[-0.25,6],[-0.23,15],[-0.20,45],[-0.18,5],[-0.15,20],[-0.12,7],[-0.10,15],[-0.07,50],[-0.05,5],[-0.02,20],[0.01,7.5],[0.03,25],[0.06,12.5],[0.08,40],[0.11,5],[0.13,30],[0.16,7],[0.18,17.5],[0.21,25],[0.24,5],[0.26,20],[0.29,7.5],[0.31,30],[0.34,5],[0.37,25],[0.39,12.5],[0.42,7],
  [-0.43,15],[-0.37,20],[-0.29,12],[-0.21,30],[-0.13,10],[-0.04,17],[0.05,20],[0.10,12.5],[0.15,60],[0.19,30],[0.23,10],[0.28,15],[0.36,20],[0.40,25],[0.44,10],
  [-0.44,5],[-0.40,10],[-0.36,7],[-0.32,12.5],[-0.28,5],[-0.24,10],[-0.20,7.5],[-0.16,10],[-0.12,5],[-0.08,15],[-0.04,10],[0.00,7.5],[0.04,5],[0.08,10],[0.12,15],[0.16,5],[0.20,10],[0.24,7.5],[0.28,10],[0.32,5],[0.36,10],[0.40,15],[0.44,5],
  [-0.43,25],[-0.38,15],[-0.33,20],[-0.27,35],[-0.22,25],[-0.17,15],[-0.13,30],[-0.07,20],[-0.02,40],[0.03,15],[0.07,30],[0.11,20],[0.17,25],[0.22,15],[0.27,40],[0.32,20],[0.38,30],[0.43,15],
  [-0.41,6],[-0.31,8],[-0.19,6],[-0.09,8],[0.01,6],[0.09,7],[0.19,8],[0.29,6],[0.39,8],[-0.26,55],[0.06,70],[0.33,50],[-0.10,90],[0.14,45]
];
const colRefMixedPts = [[0.29,243.9],[0.18,66.6],[0.08,40.5],[0.32,40.1],[-0.11,18.8],[0.3,16.9],[0.44,10.5]];
const colMixedPts = [
  [-0.26,475],[-0.2,237],[0.26,232],[-0.23,138],[-0.16,140],[0.22,139],[-0.41,76],[-0.41,67],[-0.4,52],[-0.4,46.5],[-0.3,52],[-0.44,31.6],[-0.41,26.8],[-0.44,9.8],[-0.45,6.5],[-0.41,6.5],[-0.32,6.3],[-0.32,7.6],[-0.33,10.5],[0.39,107],[0.35,100],[0.29,96.5],[0.32,94],[0.41,71],[0.38,70],[0.28,65],[0.28,98],[0.22,94],[0.41,26.8],[0.35,29.7],[0.33,21.5],[0.45,16.2],[0.36,13.2],[0.34,9.6],[0.42,9.6],[0.4,6.3],[0.27,6.0],[0.23,5.2],[0.27,5.4],
  [-0.28,12],[-0.24,25],[-0.21,60],[-0.18,8],[-0.15,18],[-0.12,40],[-0.09,14],[-0.06,30],[-0.03,80],[0.00,10],[0.03,22],[0.06,50],[0.09,15],[0.12,35],[0.15,7],[0.18,20],[0.21,70],[0.24,12],[0.27,45],[-0.27,35],[-0.23,9],[-0.19,16],[-0.16,28],[-0.13,55],[-0.10,11],[-0.07,20],[-0.04,40],[-0.01,6],[0.02,16],[0.05,32],[0.08,9],[0.11,25],[0.14,65],[0.17,13],[0.20,38],[0.23,18],[0.26,8],
  [-0.30,20],[-0.26,45],[-0.22,15],[-0.17,90],[-0.14,10],[-0.11,22],[-0.08,60],[-0.05,13],[-0.02,27],[0.01,45],[0.04,8],[0.07,19],[0.10,100],[0.13,12],[0.16,30],[0.19,55],[0.22,10],[0.25,24],[0.29,15],[0.31,40],[-0.35,18],[-0.37,9],[0.37,18],[0.43,35],[-0.43,16],[0.12,115],
  [-0.42,12],[-0.36,25],[-0.29,8],[-0.24,18],[-0.19,35],[-0.13,7],[-0.08,14],[-0.02,50],[0.03,11],[0.08,28],[0.13,9],[0.18,16],[0.24,42],[0.29,10],[0.34,22],[0.40,12],[-0.39,40],[-0.33,14],[-0.27,70],[-0.21,11],[-0.16,24],[-0.10,75],[-0.05,16],[0.00,33],[0.05,85],[0.10,12],[0.16,48],[0.21,9],[0.26,30],[0.31,60],[0.36,8],[0.42,20]
];

// ---------------------------------------------------------------------------
// log10(x + 1) axis
// ---------------------------------------------------------------------------
class Log1pScale extends Chart.LinearScale {
  static id = 'log1p';
  static defaults = {};
  configure() {
    super.configure();
    this._t0 = Math.log10(this.min + 1);
    this._t1 = Math.log10(this.max + 1);
  }
  getPixelForValue(v) {
    return this.getPixelForDecimal((Math.log10(v + 1) - this._t0) / (this._t1 - this._t0));
  }
  getValueForPixel(p) {
    return Math.pow(10, this._t0 + this.getDecimalForPixel(p) * (this._t1 - this._t0)) - 1;
  }
}
Chart.register(Log1pScale);

// ---------------------------------------------------------------------------
// Violin drawing
// ---------------------------------------------------------------------------
function splineThrough(ctx, pts) {
  for (let i = 0; i < pts.length - 1; i++) {
    const p0 = pts[Math.max(i - 1, 0)], p1 = pts[i], p2 = pts[i + 1], p3 = pts[Math.min(i + 2, pts.length - 1)];
    ctx.bezierCurveTo(
      p1[0] + (p2[0] - p0[0]) / 6, p1[1] + (p2[1] - p0[1]) / 6,
      p2[0] - (p3[0] - p1[0]) / 6, p2[1] - (p3[1] - p1[1]) / 6,
      p2[0], p2[1]);
  }
}
function violinPath(ctx, xs, ys, idx, shape) {
  const right = shape.map(([v, w]) => [xs.getPixelForValue(idx + w), ys.getPixelForValue(v)]);
  const left = shape.map(([v, w]) => [xs.getPixelForValue(idx - w), ys.getPixelForValue(v)]).reverse();
  ctx.beginPath();
  ctx.moveTo(right[0][0], right[0][1]);
  splineThrough(ctx, right);
  ctx.lineTo(left[0][0], left[0][1]);
  splineThrough(ctx, left);
  ctx.closePath();
}
const violinPlugin = {
  id: 'violins',
  beforeDatasetsDraw(chart, args, opts) {
    const { ctx, chartArea: a, scales: { x, y } } = chart;
    ctx.save();
    ctx.beginPath();
    ctx.rect(a.left, a.top, a.right - a.left, a.bottom - a.top);
    ctx.clip();
    opts.shapes.forEach((shape, i) => {
      violinPath(ctx, x, y, i, shape);
      ctx.fillStyle = fills[i];
      ctx.fill();
      ctx.save();
      ctx.clip();
      ctx.strokeStyle = '#333333';
      ctx.lineWidth = 2.2;
      opts.quantiles[i].forEach(q => {
        const py = y.getPixelForValue(q);
        ctx.beginPath();
        ctx.moveTo(x.getPixelForValue(i - 0.5), py);
        ctx.lineTo(x.getPixelForValue(i + 0.5), py);
        ctx.stroke();
      });
      ctx.restore();
      violinPath(ctx, x, y, i, shape);
      ctx.lineJoin = 'round';
      ctx.strokeStyle = '#333333';
      ctx.lineWidth = 2;
      ctx.stroke();
    });
    ctx.restore();
  },
  afterDraw(chart, args, opts) {
    const ctx = chart.ctx;
    ctx.save();
    ctx.font = 'bold 36px Lato, "Open Sans", sans-serif';
    ctx.fillStyle = '#000000';
    ctx.textBaseline = 'alphabetic';
    ctx.textAlign = 'left';
    ctx.fillText(opts.tag, opts.tagX, opts.tagY);
    ctx.restore();
  }
};

// ---------------------------------------------------------------------------
// Panel builder
// ---------------------------------------------------------------------------
const AXIS = '#333333';
const INK = '#161616';
const FONT = '"Liberation Sans", Arial, Helvetica, sans-serif';
const boldFont = { family: FONT, size: 15.6, weight: 'bold' };

function buildPanel(p) {
  const datasets = p.points.map((pts, i) => ({
    data: pts.map(([o, v]) => ({ x: i + o, y: v })),
    pointRadius: 3,
    pointBorderWidth: 1.25,
    pointBorderColor: '#a6a6a6',
    pointBackgroundColor: 'rgba(0,0,0,0)',
    pointStyle: 'circle'
  }));
  const area = p.area;
  const chart = new Chart(document.getElementById(p.id), {
    type: 'scatter',
    data: { datasets },
    plugins: [violinPlugin],
    options: {
      responsive: false,
      animation: false,
      devicePixelRatio: 1,
      events: [],
      layout: { padding: { left: area.left - p.yWidth, top: area.top, right: 1220 - area.right, bottom: 923 - area.bottom - p.xHeight } },
      plugins: {
        legend: { display: false },
        tooltip: { enabled: false },
        violins: { shapes: p.shapes, quantiles: p.quantiles, tag: p.tag, tagX: p.tagX, tagY: p.tagY }
      },
      scales: {
        x: {
          type: 'linear', min: p.xMin, max: p.xMax, bounds: 'data',
          afterBuildTicks: s => { s.ticks = categories.map((c, i) => ({ value: i })); },
          afterFit: s => { s.height = p.xHeight; },
          ticks: { autoSkip: false, maxRotation: 0, minRotation: 0, padding: 2, color: INK, font: boldFont, callback: v => categories[v] },
          grid: { drawOnChartArea: false, drawTicks: true, tickLength: 5, tickColor: AXIS, tickWidth: 1.5 },
          border: { display: true, color: AXIS, width: 2 },
          title: { display: true, text: 'Dataset and lake type', color: INK, font: boldFont, padding: 0 }
        },
        y: {
          type: p.yType, min: p.yMin, max: p.yMax, bounds: 'data',
          afterBuildTicks: s => { s.ticks = p.yTicks.map(v => ({ value: v })); },
          afterFit: s => { s.width = p.yWidth; },
          ticks: { autoSkip: false, padding: 3, color: INK, font: boldFont, callback: v => (p.yTickLabels.includes(v) ? String(v) : '') },
          grid: { drawOnChartArea: false, drawTicks: true, tickLength: 5, tickColor: AXIS, tickWidth: 1.5 },
          border: { display: true, color: AXIS, width: 2 },
          title: { display: true, text: p.yTitle, color: INK, font: boldFont, padding: 0 }
        }
      }
    }
  });
  // pin the plotting area to its place on the page
  for (let k = 0; k < 3; k++) {
    const ca = chart.chartArea;
    const pad = chart.options.layout.padding;
    const dl = area.left - ca.left, dt = area.top - ca.top, dr = ca.right - area.right, db = ca.bottom - area.bottom;
    if (Math.abs(dl) + Math.abs(dt) + Math.abs(dr) + Math.abs(db) < 0.2) break;
    pad.left += dl; pad.top += dt; pad.right += dr; pad.bottom += db;
    chart.update('none');
  }
  return chart;
}

buildPanel({
  id: 'cA', tag: 'A', tagX: 107, tagY: 67,
  area: { left: 72.7, top: 16, right: 614, bottom: 413.3 }, yWidth: 61, xHeight: 49,
  xMin: -0.6, xMax: 3.6,
  yType: 'log1p', yMin: 3.12, yMax: 115.9, yTicks: tpTicks, yTickLabels: tpTickLabels,
  yTitle: 'Total phosphorus (µg/L)',
  shapes: tpShapes, quantiles: tpQuantiles,
  points: [tpRefStratPts, tpStratPts, tpRefMixedPts, tpMixedPts]
});
buildPanel({
  id: 'cB', tag: 'B', tagX: 709, tagY: 58,
  area: { left: 689, top: 16, right: 1220, bottom: 414 }, yWidth: 62, xHeight: 48.3,
  xMin: -0.595, xMax: 3.524,
  yType: 'log1p', yMin: 0.012, yMax: 123.5, yTicks: chlTicks, yTickLabels: chlTickLabels,
  yTitle: 'Chlorophyll-a (µg/L)',
  shapes: chlShapes, quantiles: chlQuantiles,
  points: [chlRefStratPts, chlStratPts, chlRefMixedPts, chlMixedPts]
});
buildPanel({
  id: 'cC', tag: 'C', tagX: 87, tagY: 534,
  area: { left: 64, top: 476.7, right: 614, bottom: 875.7 }, yWidth: 53, xHeight: 48.3,
  xMin: -0.601, xMax: 3.598,
  yType: 'linear', yMin: -0.695, yMax: 14.71, yTicks: secTicks, yTickLabels: secTickLabels,
  yTitle: 'Secchi depth (m)',
  shapes: secShapes, quantiles: secQuantiles,
  points: [secRefStratPts, secStratPts, secRefMixedPts, secMixedPts]
});
buildPanel({
  id: 'cD', tag: 'D', tagX: 706, tagY: 528,
  area: { left: 689, top: 477.3, right: 1220, bottom: 875.7 }, yWidth: 62, xHeight: 48.3,
  xMin: -0.595, xMax: 3.524,
  yType: 'log1p', yMin: 0.522, yMax: 620.5, yTicks: colTicks, yTickLabels: colTickLabels,
  yTitle: 'Color (PCU)',
  shapes: colShapes, quantiles: colQuantiles,
  points: [colRefStratPts, colStratPts, colRefMixedPts, colMixedPts]
});
</script>
</body>
</html>
